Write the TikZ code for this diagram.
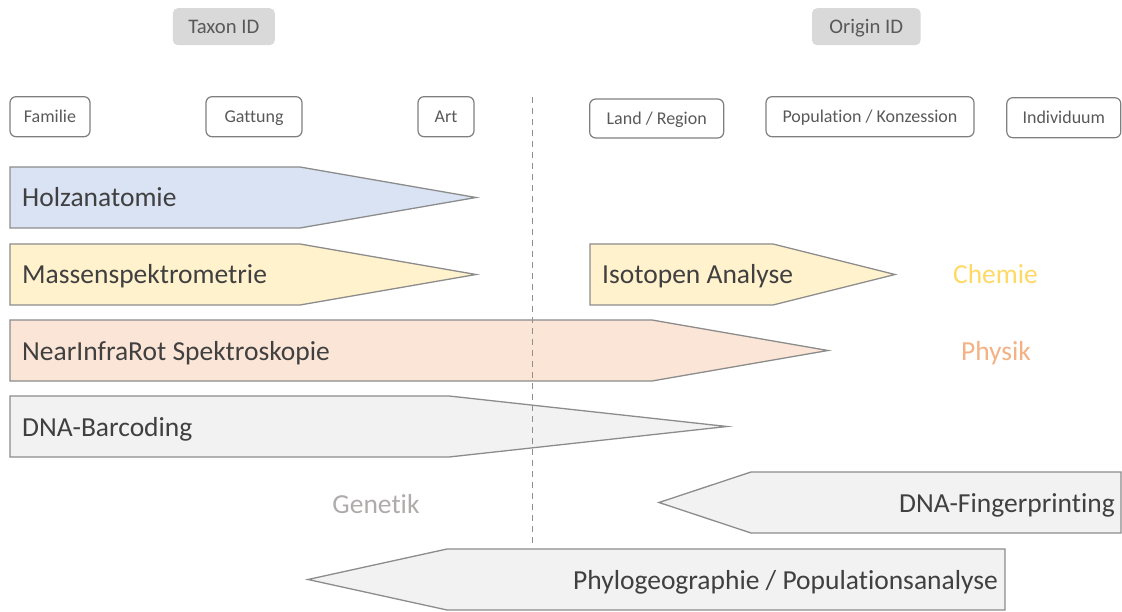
\documentclass[tikz,border=0pt]{standalone}
\usepackage{fontspec}
\setmainfont{Carlito}[Ligatures={NoCommon,NoContextual}]
\definecolor{boxgray}{HTML}{7F7F7F}
\definecolor{dashgray}{HTML}{8F8F8F}
\definecolor{labelgray}{HTML}{595959}
\definecolor{headfill}{HTML}{D9D9D9}
\definecolor{strokegray}{HTML}{8C8C8C}
\definecolor{textdark}{HTML}{404040}
\definecolor{fillblue}{HTML}{DAE3F3}
\definecolor{fillyellow}{HTML}{FFF2CC}
\definecolor{fillorange}{HTML}{FBE5D6}
\definecolor{fillgray}{HTML}{F2F2F2}
\definecolor{chemcol}{HTML}{FFD966}
\definecolor{physcol}{HTML}{F4B183}
\definecolor{gencol}{HTML}{AFABAB}
\begin{document}
\begin{tikzpicture}[x=1pt,y=-1pt,
  tag/.style={draw=boxgray, line width=1.2pt, rounded corners=6pt, text=labelgray,
    font=\fontsize{18}{20}\selectfont, inner sep=0pt, text height=11.6pt, text depth=0pt,
    minimum height=40pt},
  head/.style={fill=headfill, rounded corners=5pt, text=labelgray,
    font=\fontsize{20.7}{24}\selectfont, inner sep=0pt, text height=13.3pt, text depth=0pt,
    minimum height=37pt},
  arrowshape/.style={draw=strokegray, line width=1.3pt, line join=miter},
  bigtext/.style={font=\fontsize{27.5}{30}\selectfont, text=textdark, inner sep=0pt},
  fieldtext/.style={font=\fontsize{27.5}{30}\selectfont, inner sep=0pt, anchor=base},
  divider/.style={draw=dashgray, line width=1pt, dash pattern=on 6pt off 5pt}
]
\useasboundingbox (0,0) rectangle (1122,612);

% headers
\node[head, minimum width=102pt] (taxon) at (223.8,26.7) {Taxon ID};
\node[head, minimum width=108.6pt] (origin) at (866.3,26.7) {Origin ID};

% level boxes
\node[tag, minimum width=80pt] (familie) at (50,116.7) {Familie};
\node[tag, minimum width=96pt] (gattung) at (254,116.7) {Gattung};
\node[tag, minimum width=56pt] (art) at (446,116.7) {Art};
\node[tag, minimum width=134pt, minimum height=39pt] (land) at (656.7,118.5) {Land / Region};
\node[tag, minimum width=208pt] (pop) at (870,116.7) {Population / Konzession};
\node[tag, minimum width=114pt] (indiv) at (1063.8,117.7) {Individuum};

% arrows
\draw[arrowshape, fill=fillblue] (10,167) -- (300,167) -- (476,197.5) -- (300,228) -- (10,228) -- cycle;
\node[bigtext, anchor=base west] (holz) at (22,207) {Holzanatomie};

\draw[arrowshape, fill=fillyellow] (10,244) -- (300,244) -- (476,274.5) -- (300,305) -- (10,305) -- cycle;
\node[bigtext, anchor=base west] (massen) at (22,284) {Massenspektrometrie};

\draw[arrowshape, fill=fillyellow] (590,244) -- (773,244) -- (895,274.5) -- (773,305) -- (590,305) -- cycle;
\node[bigtext, anchor=base west] (iso) at (602,284) {Isotopen Analyse};

\draw[arrowshape, fill=fillorange] (10,320) -- (652,320) -- (828,350.5) -- (652,381) -- (10,381) -- cycle;
\node[bigtext, anchor=base west] (nir) at (22,360) {NearInfraRot Spektroskopie};

\draw[arrowshape, fill=fillgray] (10,396) -- (449,396) -- (727,426.5) -- (449,457) -- (10,457) -- cycle;
\node[bigtext, anchor=base west] (barcode) at (22,436) {DNA-Barcoding};

\draw[arrowshape, fill=fillgray] (1121,472) -- (751,472) -- (659,502.5) -- (751,533) -- (1121,533) -- cycle;
\node[bigtext, anchor=base east] (finger) at (1115,512) {DNA-Fingerprinting};

\draw[arrowshape, fill=fillgray] (1005,549) -- (447,549) -- (308,579.5) -- (447,610) -- (1005,610) -- cycle;
\node[bigtext, anchor=base east] (phylo) at (998,589) {Phylogeographie / Populationsanalyse};

% field labels
\node[fieldtext, text=chemcol] (chemie) at (995.5,284) {Chemie};
\node[fieldtext, text=physcol] (physik) at (996,360) {Physik};
\node[fieldtext, text=gencol] (genetik) at (376,513) {Genetik};

% divider
\coordinate (dtop) at (532,97);
\coordinate (dbot) at (532,545);
\draw[divider] (dtop) -- (dbot);
\end{tikzpicture}
\end{document}
